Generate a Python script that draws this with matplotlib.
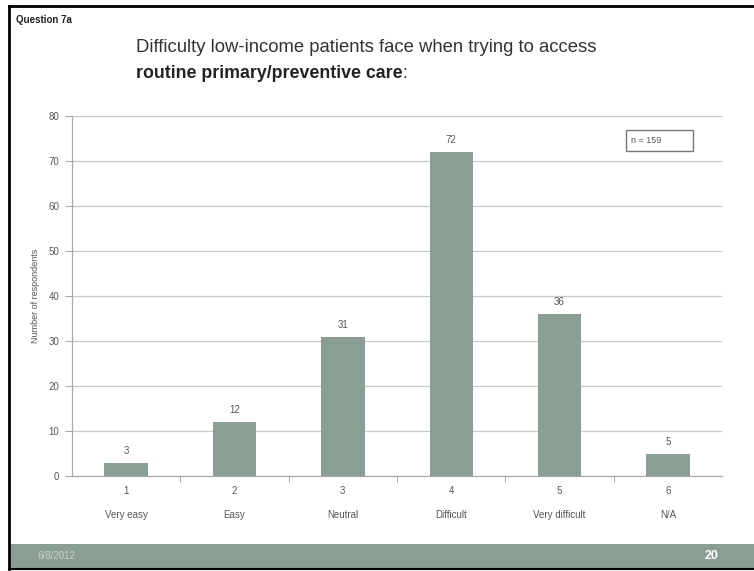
import matplotlib
matplotlib.use("Agg")
import matplotlib.pyplot as plt
from matplotlib.patches import Rectangle
from matplotlib.lines import Line2D
import matplotlib.transforms as mtransforms

plt.rcParams['font.family'] = ['Liberation Sans', 'DejaVu Sans']

codes = ["1", "2", "3", "4", "5", "6"]
answers = ["Very easy", "Easy", "Neutral", "Difficult", "Very difficult", "N/A"]
counts = [3, 12, 31, 72, 36, 5]
y_ticks = [0, 10, 20, 30, 40, 50, 60, 70, 80]

W, H = 754, 571
fig = plt.figure(figsize=(W / 100, H / 100), dpi=100)
fig.patch.set_facecolor("white")

def fx(px):
    return px / W

def fy(py):
    return 1 - py / H

bar_color = "#8a9e93"
text_gray = "#555555"

ax = fig.add_axes([fx(72), fy(476), fx(722) - fx(72), fy(116) - fy(476)])
x = list(range(len(codes)))
ax.bar(x, counts, width=0.4, color=bar_color, zorder=3)
for xi, v in zip(x, counts):
    ax.text(xi, v + 1.5, str(v), ha="center", va="bottom", fontsize=7, color=text_gray)

ax.set_xlim(-0.5, len(codes) - 0.5)
ax.set_ylim(0, 80)
ax.set_yticks(y_ticks)
ax.set_yticklabels([str(t) for t in y_ticks], fontsize=7, color=text_gray)
ax.yaxis.grid(True, color="#c8c8c8", linewidth=0.9, zorder=0)
ax.set_axisbelow(True)
ax.tick_params(axis="y", length=5, color="#aaaaaa", pad=4)
ax.set_xticks([i + 0.5 for i in range(len(codes) - 1)])
ax.set_xticklabels([])
ax.tick_params(axis="x", length=4, color="#aaaaaa", direction="out")
for s in ["top", "right"]:
    ax.spines[s].set_visible(False)
for s in ["left", "bottom"]:
    ax.spines[s].set_color("#aaaaaa")
    ax.spines[s].set_linewidth(0.9)

trans = mtransforms.blended_transform_factory(ax.transData, fig.transFigure)
for xi, c, a in zip(x, codes, answers):
    fig.text(xi, fy(491), c, transform=trans, ha="center", va="center", fontsize=7, color=text_gray)
    fig.text(xi, fy(515), a, transform=trans, ha="center", va="center", fontsize=7, color=text_gray)

fig.text(fx(35), fy(296), "Number of respondents", rotation=90, ha="center", va="center",
         fontsize=6.5, color=text_gray)

# sample-size box
fig.patches.append(Rectangle((fx(626), fy(151)), fx(693) - fx(626), fy(130) - fy(151),
                             transform=fig.transFigure, facecolor="white",
                             edgecolor="#777777", linewidth=1.0, zorder=5))
fig.text(fx(631), fy(140.5), "n = 159", ha="left", va="center", fontsize=6.5, color=text_gray, zorder=6)

# slide header
fig.text(fx(16), fy(20), "Question 7a", ha="left", va="center", fontsize=7,
         fontweight="bold", color="#222222")
fig.text(fx(136), fy(47), "Difficulty low-income patients face when trying to access",
         ha="left", va="center", fontsize=13.3, color="#333333")
t = fig.text(fx(136), fy(74), "routine primary/preventive care", ha="left", va="center",
             fontsize=12.8, fontweight="bold", color="#222222")
fig.canvas.draw()
bb = t.get_window_extent()
fig.text(bb.x1 / W, fy(74), ":", ha="left", va="center", fontsize=12.8, color="#333333")

# footer band
fig.patches.append(Rectangle((fx(9), fy(568)), 1 - fx(9), fy(544) - fy(568),
                             transform=fig.transFigure, facecolor="#8b9e94",
                             edgecolor="none", zorder=1))
fig.text(fx(37), fy(556), "6/8/2012", ha="left", va="center", fontsize=7, color="#c9d3cd")
fig.text(fx(712), fy(556), "20", ha="center", va="center", fontsize=9, fontweight="bold", color="white")

# slide frame
fig.lines.append(Line2D([fx(9), 1], [fy(6), fy(6)], transform=fig.transFigure, color="black", linewidth=2))
fig.lines.append(Line2D([fx(9), fx(9)], [fy(6), fy(569)], transform=fig.transFigure, color="black", linewidth=2))
fig.lines.append(Line2D([fx(9), 1], [fy(569), fy(569)], transform=fig.transFigure, color="black", linewidth=1.5))

fig.savefig("out.png", dpi=100)
